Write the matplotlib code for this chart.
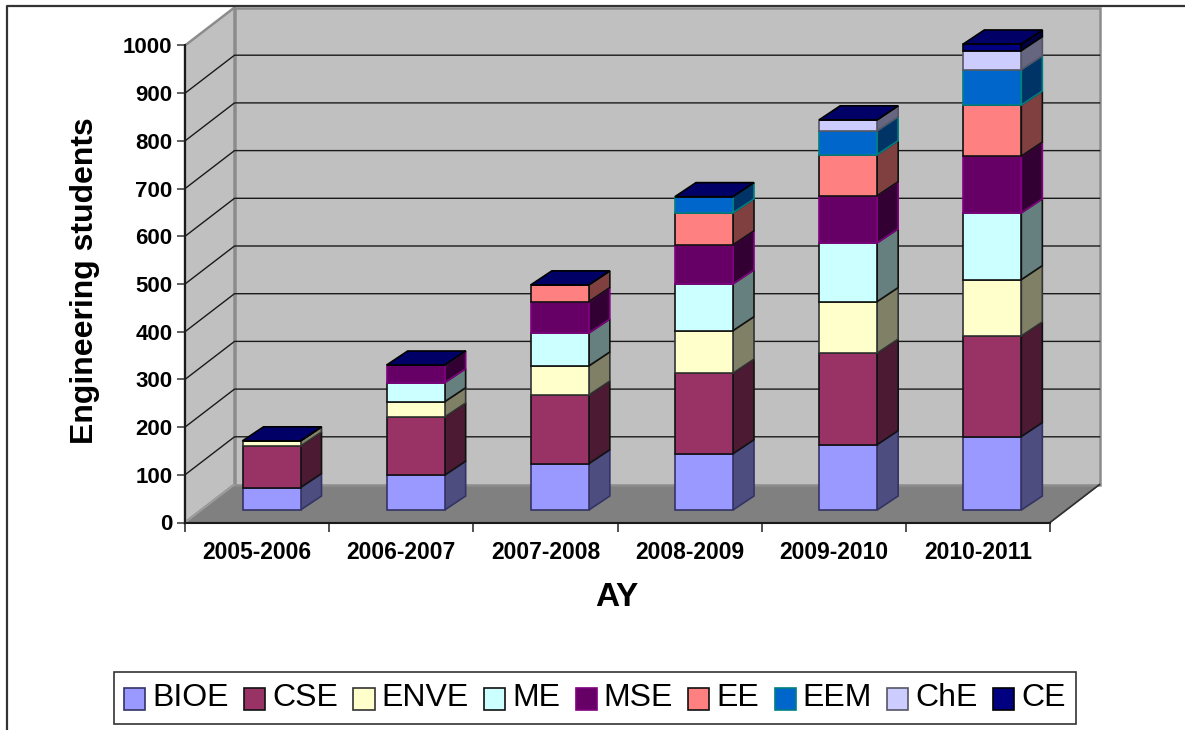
"""Stacked 3D-look column chart of engineering students per academic year."""

import matplotlib
matplotlib.use("Agg")
import matplotlib.pyplot as plt
from matplotlib.legend_handler import HandlerPatch
from matplotlib.lines import Line2D
from matplotlib.patches import Patch, Polygon, Rectangle
import numpy as np

years = ["2005-2006", "2006-2007", "2007-2008", "2008-2009", "2009-2010",
         "2010-2011"]
programs = ["BIOE", "CSE", "ENVE", "ME", "MSE", "EE", "EEM", "ChE", "CE"]

BIOE = [47, 73, 97, 118, 137, 154]
CSE = [87, 122, 144, 169, 192, 211]
ENVE = [11, 32, 61, 89, 108, 118]
ME = [0, 40, 69, 98, 123, 140]
MSE = [0, 37, 66, 82, 99, 119]
EE = [0, 0, 35, 67, 86, 107]
EEM = [0, 0, 0, 34, 50, 74]
ChE = [0, 0, 0, 0, 23, 40]
CE = [0, 0, 0, 0, 0, 14]

series = [BIOE, CSE, ENVE, ME, MSE, EE, EEM, ChE, CE]
colors = ["#9999FF", "#993366", "#FFFFCC", "#CCFFFF", "#660066", "#FF8080",
          "#0066CC", "#CCCCFF", "#000080"]
edges = ["#333366", "#111111", "#333333", "#111111", "#800080", "#111111",
         "#008080", "#555566", "#000000"]

plt.rcParams["font.family"] = ["Liberation Sans", "DejaVu Sans"]

W, H = 1185, 730
fig = plt.figure(figsize=(W / 100, H / 100), dpi=100, facecolor="white")
ax = fig.add_axes([185 / W, (H - 522.5) / H, 865 / W, 477 / H])
ax.set_xlim(0, len(years))
ax.set_ylim(0, 1000)
ax.patch.set_visible(False)

# one category / one student in pixels
xpx = 865 / len(years)
ypx = 477 / 1000

# depth of the box and of the columns
wall_dx, wall_dy = 49.5 / xpx, 38 / ypx
bar_dx, bar_dy = 21 / xpx, 14 / ypx
bar_left, bar_width = 57.5 / xpx, 58 / xpx
bar_base = 12.5 / ypx


def darken(color, factor):
    rgb = np.array(matplotlib.colors.to_rgb(color))
    return tuple(rgb * factor)


def add_poly(points, face, edge, lw=1.2, z=3):
    ax.add_patch(Polygon(points, closed=True, facecolor=face, edgecolor=edge,
                         linewidth=lw, clip_on=False, zorder=z,
                         joinstyle="miter"))


def low_swatch(legend, orig_handle, xdescent, ydescent, width, height,
               fontsize):
    # swatches sit a bit below the text in the original
    return Rectangle((-xdescent, -ydescent - 3), width, height)


# floor and walls
n = len(years)
add_poly([(0, 0), (n, 0), (n + wall_dx, wall_dy), (wall_dx, wall_dy)],
         "#808080", "#707070", 1.0, 1)
add_poly([(wall_dx, wall_dy), (n + wall_dx, wall_dy),
          (n + wall_dx, 1000 + wall_dy), (wall_dx, 1000 + wall_dy)],
         "#C0C0C0", "#8C8C8C", 1.8, 1)
add_poly([(0, 0), (wall_dx, wall_dy), (wall_dx, 1000 + wall_dy), (0, 1000)],
         "#C0C0C0", "#8C8C8C", 1.8, 1)
ax.plot([0, wall_dx], [0, wall_dy], color="#A0A0A0", lw=1, clip_on=False,
        zorder=1.5)
ax.plot([n, n + wall_dx], [0, wall_dy], color="#303030", lw=1.2,
        clip_on=False, zorder=1.5)

# gridlines run along the side wall and then the back wall
for v in range(100, 1000, 100):
    ax.plot([0, wall_dx, n + wall_dx], [v, v + wall_dy, v + wall_dy],
            color="#1A1A1A", lw=1.0, clip_on=False, zorder=2)

# columns
for i in range(n):
    x0 = i + bar_left
    x1 = x0 + bar_width
    bottom = bar_base
    for values, color, edge in zip(series, colors, edges):
        top = bottom + values[i]
        add_poly([(x1, bottom), (x1 + bar_dx, bottom + bar_dy),
                  (x1 + bar_dx, top + bar_dy), (x1, top)],
                 darken(color, 0.5), edge)
        add_poly([(x0, bottom), (x1, bottom), (x1, top), (x0, top)],
                 color, edge)
        bottom = top
    # the last series has no height in most years, but still caps the stack
    add_poly([(x0, bottom), (x1, bottom), (x1 + bar_dx, bottom + bar_dy),
              (x0 + bar_dx, bottom + bar_dy)],
             darken(colors[-1], 0.8), "#000000")

# axes
for side in ["top", "right"]:
    ax.spines[side].set_visible(False)
for side in ["left", "bottom"]:
    ax.spines[side].set_linewidth(1.5)
    ax.spines[side].set_color("#1A1A1A")
    ax.spines[side].set_zorder(2.5)

ax.set_yticks(np.arange(0, 1001, 100))
ax.tick_params(axis="y", length=6, width=1.2, color="#444444", pad=3,
               labelsize=16)
ax.set_xticks(np.arange(0, n + 1))
ax.set_xticklabels([])
ax.tick_params(axis="x", length=6.5, width=1.2, color="#333333")
for label in ax.get_yticklabels():
    label.set_fontweight("bold")
ax.set_xticks(np.arange(n) + 0.5, minor=True)
ax.set_xticklabels(years, minor=True, fontsize=16.5, fontweight="bold")
ax.tick_params(axis="x", which="minor", length=0, pad=13)

fig.text(617 / W, 1 - 597 / H, "AY", fontsize=24, fontweight="bold",
         ha="center", va="center")
fig.text(85 / W, 1 - 281 / H, "Engineering students", fontsize=23,
         fontweight="bold", rotation=90, ha="center", va="center")

# legend
handles = [Patch(facecolor=c, edgecolor=e, linewidth=1.2)
           for c, e in zip(colors, edges)]
leg = fig.legend(handles, programs, ncol=len(programs), loc="center",
                 bbox_to_anchor=(595 / W, 1 - 698 / H), fontsize=23,
                 frameon=True, fancybox=False, edgecolor="#333333",
                 framealpha=1, handlelength=0.66, handleheight=0.66,
                 handletextpad=0.22, columnspacing=0.48, borderpad=0.33,
                 borderaxespad=0,
                 handler_map={Patch: HandlerPatch(patch_func=low_swatch)})
leg.get_frame().set_linewidth(1.2)

# chart area border, cut off by the page at right and bottom
fig.add_artist(Line2D([7 / W, 7 / W, 1], [0, 1 - 6 / H, 1 - 6 / H],
                      color="#333333", lw=1.6))

fig.savefig("out.png", dpi=100)
